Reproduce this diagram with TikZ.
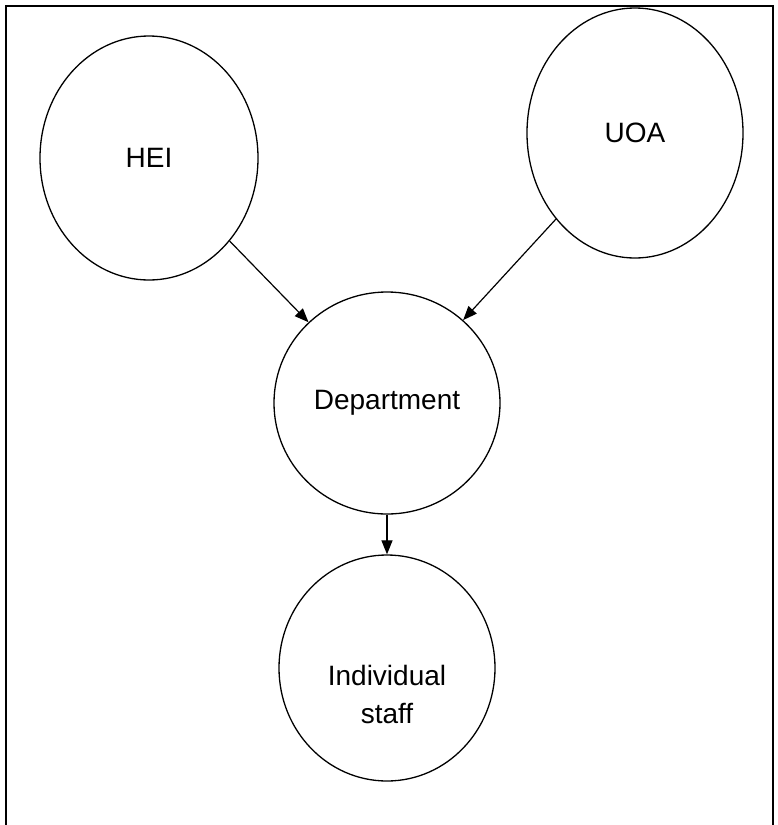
\documentclass[tikz,border=0pt]{standalone}
\usepackage{fontspec}
\setmainfont{Liberation Sans}
\usetikzlibrary{shapes.geometric, arrows.meta}

\begin{document}
\begin{tikzpicture}[x=0.5pt, y=-0.5pt, >={Triangle[length=7pt, width=5.5pt]}, ->,
    unit/.style={draw, ellipse, line width=0.65pt, inner sep=0pt, align=center},
    link/.style={line width=0.6pt}]
    \fontsize{14}{19}\selectfont
    \useasboundingbox (0,0) rectangle (777,825);
    \draw[-, line width=1pt] (6,825) -- (6,6) -- (773,6) -- (773,825);
    %
    \node [unit, minimum width=109pt, minimum height=122pt] (hei) at (149,158) {HEI};
    \node [unit, minimum width=108pt, minimum height=125pt] (uoa) at (635,133) {UOA};
    \node [unit, minimum width=113pt, minimum height=111pt] (dept) at (387,403) {Department};
    \node [unit, minimum width=108pt, minimum height=113pt,
           label={[yshift=-13pt, align=center]center:Individual\\staff}] (staff) at (387,668) {};
    %
    \draw [link] (hei) -- (dept);
    \draw [link] (uoa) -- (dept);
    \draw [link] (dept) -- (staff);
\end{tikzpicture}
\end{document}
